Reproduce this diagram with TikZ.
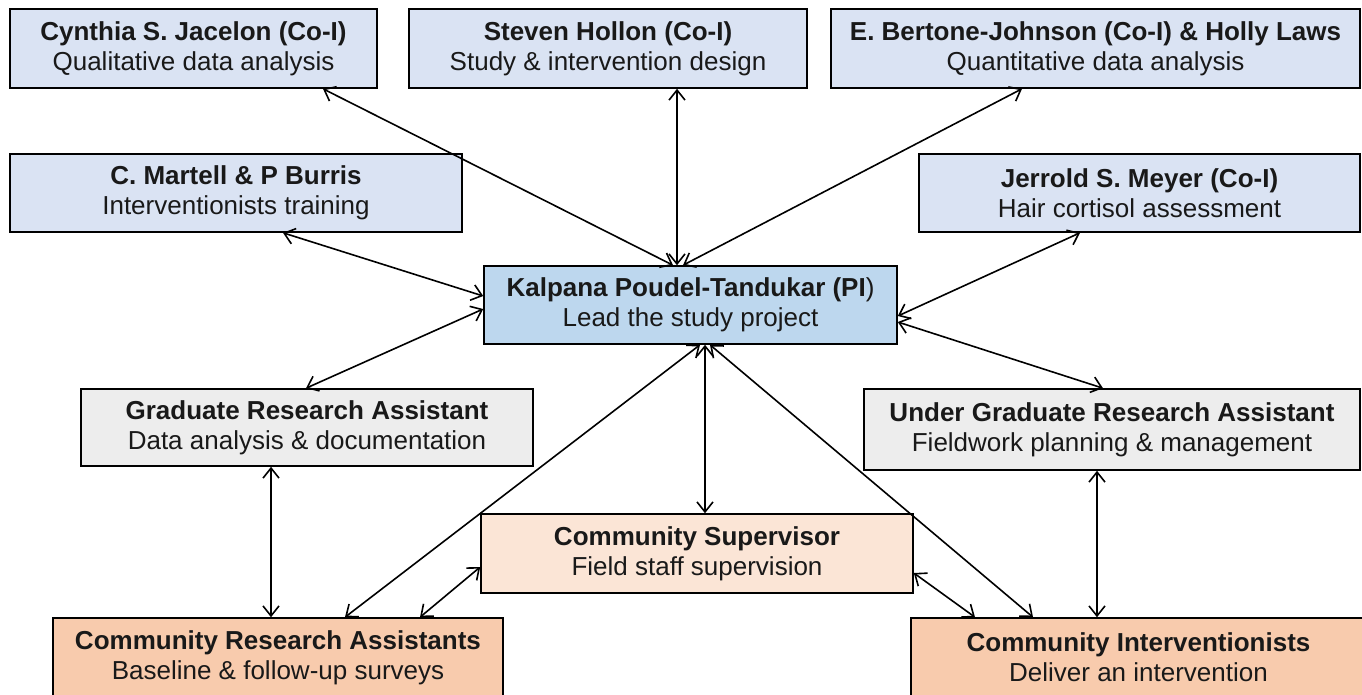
\documentclass[tikz,border=0pt]{standalone}
\usepackage{fontspec}
\setmainfont{Liberation Sans}
\usetikzlibrary{arrows.meta}
\definecolor{coi}{HTML}{DAE3F3}
\definecolor{pic}{HTML}{BDD7EE}
\definecolor{grac}{HTML}{EDEDED}
\definecolor{supc}{HTML}{FBE5D6}
\definecolor{comc}{HTML}{F8CBAD}
\tikzset{
  box/.style={draw=black, line width=1.2pt, inner sep=0pt, align=center,
    font=\fontsize{19.5}{22.5}\selectfont, text=black!90},
  arr/.style={line width=1.2pt, {Straight Barb[length=7.5pt,width=12pt]}-{Straight Barb[length=7.5pt,width=12pt]}}
}
\newcommand{\bx}[8]{%
  \node[box, fill=#6, minimum width={(#4-#2)*0.75pt}, minimum height={(#5-#3)*0.75pt}]
    (#1) at ({(#2+#4)/2},{(#3+#5)/2}) {\textbf{#7}\\#8};}
\begin{document}
\begin{tikzpicture}[x=0.75pt,y=-0.75pt]
\useasboundingbox (0,0) rectangle (1362,694);
\bx{jac}{10}{9}{377}{88}{coi}{Cynthia S. Jacelon (Co-I)}{Qualitative data analysis}
\bx{hol}{409}{9}{807}{88}{coi}{Steven Hollon (Co-I)}{Study \& intervention design}
\bx{ber}{831}{9}{1360}{88}{coi}{E. Bertone-Johnson (Co-I) \& Holly Laws}{Quantitative data analysis}
\bx{mar}{10}{154}{462}{232}{coi}{C. Martell \& P Burris}{Interventionists training}
\bx{mey}{919}{154}{1360}{232}{coi}{Jerrold S. Meyer (Co-I)}{Hair cortisol assessment}
\node[box, fill=pic, minimum width={413*0.75pt}, minimum height={78*0.75pt}] (pi) at (690.5,305)
  {\textbf{Kalpana Poudel-Tandukar (PI})\\Lead the study project};
\bx{gra}{81}{389}{533}{466}{grac}{Graduate Research Assistant}{Data analysis \& documentation}
\bx{ugra}{864}{389}{1360}{470}{grac}{Under Graduate Research Assistant}{Fieldwork planning \& management}
\bx{sup}{481}{514}{913}{593}{supc}{Community Supervisor}{Field staff supervision}
\bx{cra}{53}{618}{503}{697}{comc}{Community Research Assistants}{Baseline \& follow-up surveys}
\bx{ci}{911}{618}{1366}{697}{comc}{Community Interventionists}{Deliver an intervention}

\draw[arr] (jac.south -| 323,0) -- (pi.north -| 673,0);
\draw[arr] (hol.south -| 677,0) -- (pi.north -| 677,0);
\draw[arr] (ber.south -| 1022,0) -- (pi.north -| 683,0);
\draw[arr] (mar.south -| 283,0) -- (pi.west |- 0,296);
\draw[arr] (mey.south -| 1080,0) -- (pi.east |- 0,316);
\draw[arr] (pi.west |- 0,309) -- (gra.north -| 306,0);
\draw[arr] (pi.east |- 0,322) -- (ugra.north -| 1103,0);
\draw[arr] (pi.south -| 705,0) -- (sup.north -| 705,0);
\draw[arr] (pi.south -| 700,0) -- (cra.north -| 345,0);
\draw[arr] (pi.south -| 710,0) -- (ci.north -| 1033,0);
\draw[arr] (gra.south -| 271,0) -- (cra.north -| 271,0);
\draw[arr] (ugra.south -| 1097,0) -- (ci.north -| 1097,0);
\draw[arr] (sup.west |- 0,567) -- (cra.north -| 420,0);
\draw[arr] (sup.east |- 0,573) -- (ci.north -| 975,0);
\end{tikzpicture}
\end{document}
